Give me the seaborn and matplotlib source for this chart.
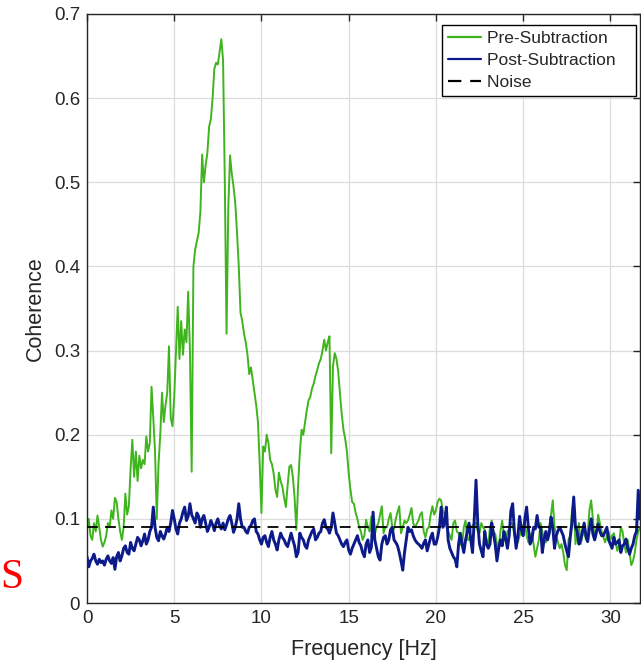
import numpy as np
import pandas as pd
import matplotlib
matplotlib.use("Agg")
import matplotlib.pyplot as plt
import seaborn as sns

# ---- data (0.1 Hz steps) ----
freq_step = 0.1
pre_subtraction = [
    0.090, 0.100, 0.080, 0.075, 0.095, 0.085, 0.104, 0.090, 0.075, 0.067,   # 0
    0.072, 0.080, 0.095, 0.090, 0.110, 0.100, 0.125, 0.120, 0.100, 0.085,   # 1
    0.075, 0.090, 0.130, 0.105, 0.115, 0.160, 0.194, 0.150, 0.180, 0.145,   # 2
    0.175, 0.160, 0.170, 0.165, 0.198, 0.180, 0.190, 0.257, 0.220, 0.180,   # 3
    0.100, 0.165, 0.200, 0.250, 0.215, 0.235, 0.250, 0.305, 0.220, 0.210,   # 4
    0.245, 0.300, 0.352, 0.290, 0.335, 0.295, 0.325, 0.310, 0.370, 0.300,   # 5
    0.156, 0.400, 0.420, 0.430, 0.440, 0.465, 0.533, 0.500, 0.520, 0.535,   # 6
    0.566, 0.575, 0.600, 0.635, 0.642, 0.640, 0.655, 0.670, 0.645, 0.500,   # 7
    0.320, 0.470, 0.532, 0.510, 0.495, 0.475, 0.440, 0.400, 0.345, 0.335,   # 8
    0.320, 0.310, 0.295, 0.272, 0.280, 0.265, 0.250, 0.235, 0.215, 0.165,   # 9
    0.107, 0.186, 0.180, 0.200, 0.190, 0.170, 0.165, 0.154, 0.135, 0.126,   # 10
    0.155, 0.145, 0.138, 0.125, 0.114, 0.140, 0.162, 0.164, 0.150, 0.125,   # 11
    0.087, 0.140, 0.178, 0.206, 0.200, 0.215, 0.229, 0.241, 0.245, 0.255,   # 12
    0.261, 0.270, 0.277, 0.285, 0.290, 0.300, 0.313, 0.300, 0.310, 0.317,   # 13
    0.178, 0.281, 0.297, 0.290, 0.275, 0.249, 0.225, 0.206, 0.195, 0.180,   # 14
    0.154, 0.135, 0.120, 0.118, 0.107, 0.100, 0.090, 0.085, 0.075, 0.080,   # 15
    0.099, 0.090, 0.085, 0.103, 0.095, 0.082, 0.090, 0.095, 0.105, 0.115,   # 16
    0.083, 0.090, 0.090, 0.100, 0.107, 0.090, 0.088, 0.100, 0.108, 0.115,   # 17
    0.083, 0.090, 0.098, 0.095, 0.098, 0.105, 0.113, 0.095, 0.090, 0.094,   # 18
    0.098, 0.105, 0.108, 0.085, 0.078, 0.088, 0.090, 0.105, 0.115, 0.105,   # 19
    0.110, 0.120, 0.124, 0.122, 0.110, 0.105, 0.090, 0.085, 0.080, 0.075,   # 20
    0.095, 0.098, 0.085, 0.083, 0.070, 0.068, 0.090, 0.098, 0.075, 0.075,   # 21
    0.090, 0.092, 0.095, 0.095, 0.085, 0.083, 0.095, 0.090, 0.087, 0.075,   # 22
    0.068, 0.090, 0.098, 0.085, 0.082, 0.070, 0.065, 0.085, 0.098, 0.080,   # 23
    0.072, 0.085, 0.088, 0.095, 0.094, 0.080, 0.078, 0.072, 0.080, 0.087,   # 24
    0.092, 0.095, 0.080, 0.072, 0.080, 0.083, 0.070, 0.055, 0.065, 0.075,   # 25
    0.095, 0.085, 0.075, 0.072, 0.080, 0.090, 0.105, 0.122, 0.090, 0.080,   # 26
    0.072, 0.065, 0.070, 0.060, 0.045, 0.039, 0.075, 0.080, 0.110, 0.122,   # 27
    0.070, 0.085, 0.095, 0.070, 0.080, 0.085, 0.075, 0.082, 0.110, 0.122,   # 28
    0.100, 0.075, 0.080, 0.105, 0.095, 0.085, 0.078, 0.072, 0.080, 0.085,   # 29
    0.075, 0.080, 0.083, 0.072, 0.062, 0.070, 0.090, 0.085, 0.070, 0.060,   # 30
    0.075, 0.060, 0.045, 0.050, 0.060, 0.075, 0.085, 0.090,                 # 31
]
post_subtraction = [
    0.055, 0.043, 0.050, 0.053, 0.058, 0.050, 0.046, 0.052, 0.048, 0.050,   # 0
    0.045, 0.052, 0.056, 0.050, 0.047, 0.054, 0.040, 0.055, 0.060, 0.050,   # 1
    0.056, 0.065, 0.068, 0.060, 0.058, 0.072, 0.065, 0.062, 0.070, 0.078,   # 2
    0.075, 0.068, 0.074, 0.082, 0.070, 0.075, 0.085, 0.090, 0.114, 0.090,   # 3
    0.078, 0.074, 0.085, 0.080, 0.076, 0.082, 0.090, 0.085, 0.095, 0.110,   # 4
    0.100, 0.088, 0.082, 0.095, 0.100, 0.108, 0.114, 0.098, 0.103, 0.118,   # 5
    0.105, 0.100, 0.095, 0.107, 0.103, 0.090, 0.100, 0.104, 0.095, 0.085,   # 6
    0.090, 0.098, 0.093, 0.086, 0.095, 0.100, 0.092, 0.088, 0.095, 0.087,   # 7
    0.093, 0.100, 0.104, 0.095, 0.084, 0.090, 0.100, 0.118, 0.100, 0.090,   # 8
    0.090, 0.085, 0.083, 0.090, 0.092, 0.098, 0.100, 0.085, 0.082, 0.075,   # 9
    0.070, 0.078, 0.080, 0.072, 0.067, 0.078, 0.085, 0.075, 0.070, 0.063,   # 10
    0.075, 0.083, 0.078, 0.075, 0.070, 0.067, 0.075, 0.083, 0.075, 0.068,   # 11
    0.055, 0.060, 0.083, 0.078, 0.075, 0.068, 0.065, 0.075, 0.080, 0.085,   # 12
    0.088, 0.075, 0.078, 0.083, 0.085, 0.095, 0.099, 0.090, 0.088, 0.083,   # 13
    0.090, 0.107, 0.095, 0.083, 0.080, 0.075, 0.070, 0.067, 0.072, 0.075,   # 14
    0.063, 0.058, 0.065, 0.070, 0.075, 0.080, 0.072, 0.068, 0.060, 0.055,   # 15
    0.070, 0.075, 0.060, 0.066, 0.108, 0.075, 0.065, 0.055, 0.051, 0.070,   # 16
    0.078, 0.080, 0.070, 0.075, 0.087, 0.090, 0.075, 0.072, 0.068, 0.060,   # 17
    0.050, 0.039, 0.060, 0.075, 0.090, 0.085, 0.087, 0.080, 0.075, 0.072,   # 18
    0.070, 0.068, 0.065, 0.071, 0.075, 0.062, 0.070, 0.078, 0.083, 0.070,   # 19
    0.070, 0.078, 0.090, 0.114, 0.090, 0.095, 0.114, 0.075, 0.065, 0.060,   # 20
    0.055, 0.052, 0.043, 0.070, 0.083, 0.070, 0.060, 0.075, 0.085, 0.095,   # 21
    0.075, 0.060, 0.100, 0.146, 0.095, 0.070, 0.062, 0.055, 0.085, 0.070,   # 22
    0.065, 0.070, 0.095, 0.082, 0.070, 0.050, 0.065, 0.075, 0.068, 0.085,   # 23
    0.077, 0.065, 0.080, 0.110, 0.118, 0.085, 0.065, 0.080, 0.103, 0.087,   # 24
    0.080, 0.100, 0.114, 0.090, 0.070, 0.075, 0.090, 0.088, 0.104, 0.090,   # 25
    0.090, 0.060, 0.075, 0.085, 0.075, 0.083, 0.102, 0.090, 0.065, 0.080,   # 26
    0.086, 0.090, 0.085, 0.080, 0.070, 0.062, 0.055, 0.078, 0.095, 0.126,   # 27
    0.090, 0.085, 0.070, 0.075, 0.085, 0.095, 0.080, 0.073, 0.088, 0.100,   # 28
    0.082, 0.075, 0.085, 0.094, 0.085, 0.080, 0.080, 0.085, 0.090, 0.075,   # 29
    0.070, 0.065, 0.078, 0.070, 0.072, 0.075, 0.060, 0.068, 0.070, 0.076,   # 30
    0.065, 0.058, 0.065, 0.070, 0.080, 0.085, 0.134, 0.100,                 # 31
]
noise_level = 0.09
x_ticks = [0, 5, 10, 15, 20, 25, 30]
y_ticks = [0, 0.1, 0.2, 0.3, 0.4, 0.5, 0.6, 0.7]
y_tick_labels = ["0", "0.1", "0.2", "0.3", "0.4", "0.5", "0.6", "0.7"]
series_names = ["Pre-Subtraction", "Post-Subtraction", "Noise"]

assert len(pre_subtraction) == len(post_subtraction)
freq = np.round(np.arange(len(pre_subtraction)) * freq_step, 2)

df = pd.DataFrame({
    "Frequency": np.concatenate([freq, freq]),
    "Coherence": pre_subtraction + post_subtraction,
    "Series": [series_names[0]] * len(freq) + [series_names[1]] * len(freq),
})

# ---- style ----
sns.set_style("white")
plt.rcParams["font.family"] = ["Liberation Sans", "DejaVu Sans"]

W, H = 641, 660
fig = plt.figure(figsize=(W / 100, H / 100), dpi=100)
ax = fig.add_axes([87 / W, 1 - 603 / H, (640 - 87) / W, (603 - 14) / H])

green = "#3fb41e"
navy = "#0c1a8a"

sns.lineplot(data=df[df.Series == series_names[0]], x="Frequency", y="Coherence",
             color=green, lw=1.4, ax=ax, label=series_names[0], zorder=2)
sns.lineplot(data=df[df.Series == series_names[1]], x="Frequency", y="Coherence",
             color=navy, lw=2.1, ax=ax, label=series_names[1], zorder=3)
ax.axhline(noise_level, color="black", lw=1.3, ls=(0, (6, 4)), zorder=4, label=series_names[2])

ax.set_xlim(0, 31.7)
ax.set_ylim(0, 0.7)
ax.set_xticks(x_ticks)
ax.set_yticks(y_ticks)
ax.set_yticklabels(y_tick_labels)
ax.tick_params(axis="both", which="both", direction="in", length=5, width=1,
               colors="#262626", labelsize=13.5, top=True, right=True, pad=5)
ax.grid(True, color="#dcdcdc", lw=0.9)
for s in ax.spines.values():
    s.set_color("#262626")
    s.set_linewidth(1.0)

ax.set_xlabel("Frequency [Hz]", fontsize=15.5, color="#262626", labelpad=9)
ax.set_ylabel("Coherence", fontsize=15.5, color="#262626", labelpad=6)

handles, labels = ax.get_legend_handles_labels()
order = [labels.index(n) for n in series_names]
leg = ax.legend([handles[i] for i in order], [labels[i] + "   " for i in order],
                loc="upper right", bbox_to_anchor=(1.0 - 4 / 553, 1.0 - 11 / 589),
                frameon=True, fancybox=False, edgecolor="black", framealpha=1,
                fontsize=12.5, handlelength=1.9, handletextpad=0.3,
                borderpad=0.35, labelspacing=0.38, borderaxespad=0)
leg.get_frame().set_linewidth(1.0)
for h in leg.get_lines():
    h.set_linewidth(1.6)

fig.text(0.5 / W, 1 - 578 / H, "S", color="red", fontsize=30,
         family=["Liberation Serif", "DejaVu Serif"], ha="left", va="center")

fig.savefig("out.png", dpi=100)
